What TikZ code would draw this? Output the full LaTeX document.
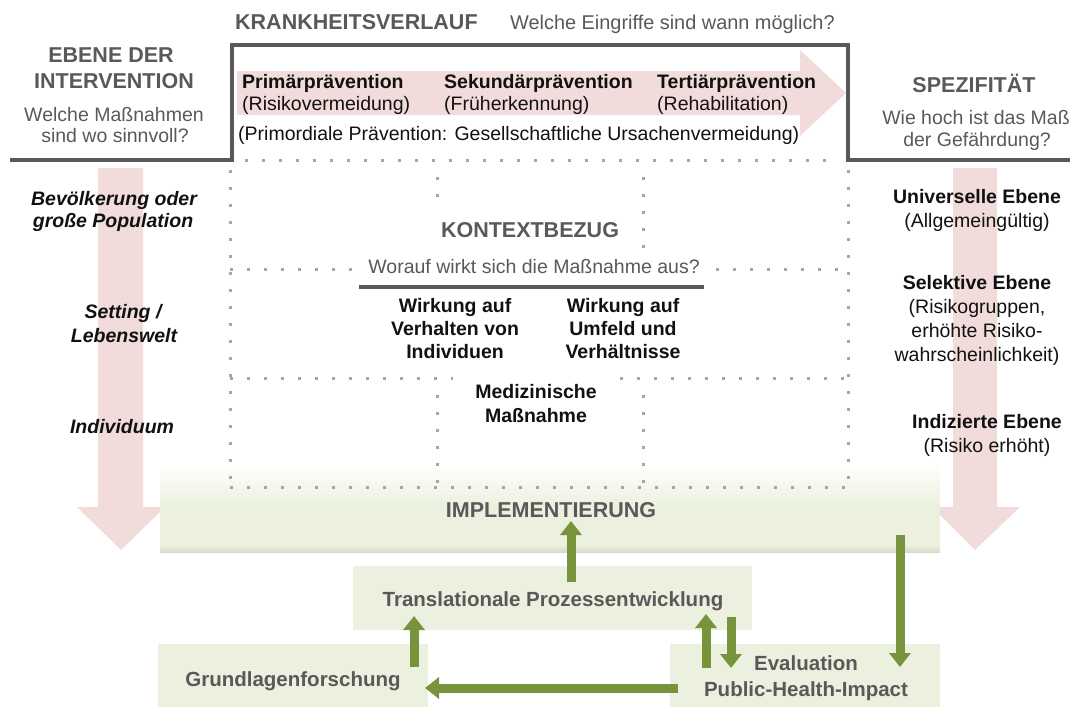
\documentclass[tikz,border=0pt]{standalone}
\usepackage{fontspec}
\setmainfont{Liberation Sans}
\usetikzlibrary{arrows.meta}
\definecolor{tgray}{HTML}{595959}
\definecolor{lgray}{HTML}{A6A6A6}
\definecolor{pinkc}{HTML}{F2DCDB}
\definecolor{gfill}{HTML}{EBF1DE}
\definecolor{gdark}{HTML}{D5DCC6}
\definecolor{garrow}{HTML}{77933C}
\definecolor{tblack}{HTML}{111111}
\begin{document}
\begin{tikzpicture}[x=1pt,y=-1pt,
  title/.style={font=\fontsize{21.5}{25}\selectfont\bfseries, text=tgray, inner sep=0pt, anchor=base},
  sub/.style={font=\fontsize{19.5}{23}\selectfont, text=tgray, inner sep=0pt, anchor=base},
  body/.style={font=\fontsize{19.5}{23}\selectfont, text=tblack, inner sep=0pt, anchor=base},
  bodyb/.style={font=\fontsize{19.5}{23}\selectfont\bfseries, text=tblack, inner sep=0pt, anchor=base},
  bodyi/.style={font=\fontsize{19.5}{23}\selectfont\bfseries\itshape, text=tblack, inner sep=0pt, anchor=base},
  boxtext/.style={font=\fontsize{20.5}{24}\selectfont\bfseries, text=tgray, inner sep=0pt, anchor=base},
  gbox/.style={fill=gfill, draw=none, inner sep=0pt},
  dotline/.style={draw=lgray, line width=3pt, dash pattern=on 3pt off 14pt},
  garr/.style={draw=garrow, line width=9pt, -{Triangle[width=21pt,length=14pt]}},
  pinkshape/.style={fill=pinkc, draw=none},
]
\useasboundingbox (0,0) rectangle (1085,707);

% pink arrows
\fill[pinkshape] (237,71) -- (800,71) -- (800,50) -- (846,93) -- (800,136) -- (800,115) -- (237,115) -- cycle;
\fill[pinkshape] (98,168) -- (143,168) -- (143,507) -- (165,507) -- (121,550) -- (77,507) -- (98,507) -- cycle;
\fill[pinkshape] (953,168) -- (997,168) -- (997,507) -- (1020,507) -- (975,550) -- (932,507) -- (953,507) -- cycle;

% implementation band
\shade[top color=white, bottom color=gfill] (160,463) rectangle (940,506);
\fill[gfill] (160,505) rectangle (940,546);
\shade[top color=gfill, bottom color=gdark] (160,545) rectangle (940,552);

% dotted grid
\draw[dotline] (245,160) -- (840,160);
\draw[dotline] (230,170) -- (230,487);
\draw[dotline] (848,170) -- (848,487);
\draw[dotline] (230,269) -- (355,269);
\draw[dotline] (716,269) -- (848,269);
\draw[dotline] (230,378) -- (453,378);
\draw[dotline] (620,378) -- (848,378);
\draw[dotline] (230,487) -- (848,487);
\draw[dotline] (437,177) -- (437,205);
\draw[dotline] (643,177) -- (643,248);
\draw[dotline] (437,395) -- (437,487);
\draw[dotline] (643,395) -- (643,487);

% stepped thick line
\draw[line width=4pt, tgray, line join=miter] (10,160) -- (232,160) -- (232,45) -- (848,45) -- (848,160) -- (1070,160);

% header texts
\node[title, anchor=base west] (kv) at (235,29) {KRANKHEITSVERLAUF};
\node[sub, anchor=base west, font=\fontsize{19.9}{23}\selectfont] (kvq) at (510,29) {Welche Eingriffe sind wann möglich?};

\node[title] (eb1) at (111,62) {EBENE DER};
\node[title] (eb2) at (114,88) {INTERVENTION};
\node[sub] (eb3) at (114,121) {Welche Maßnahmen};
\node[sub] (eb4) at (115,142) {sind wo sinnvoll?};

\node[title] (sp1) at (974,92) {SPEZIFITÄT};
\node[sub] (sp2) at (976,124) {Wie hoch ist das Maß};
\node[sub] (sp3) at (977,146) {der Gefährdung?};

% prevention types
\node[bodyb, anchor=base west] (pp1) at (242,88) {Primärprävention};
\node[body, anchor=base west] (pp2) at (242,110) {(Risikovermeidung)};
\node[bodyb, anchor=base west] (sp1b) at (444,88) {Sekundärprävention};
\node[body, anchor=base west] (sp2b) at (444,110) {(Früherkennung)};
\node[bodyb, anchor=base west] (tp1) at (657,88) {Tertiärprävention};
\node[body, anchor=base west] (tp2) at (657,110) {(Rehabilitation)};
\node[body, anchor=base west] (prim) at (238,140) {(Primordiale Prävention: Gesellschaftliche Ursachenvermeidung)};

% left levels
\node[bodyi] (l1) at (114,205) {Bevölkerung oder};
\node[bodyi] (l2) at (113,227) {große Population};
\node[bodyi] (l3) at (123,318) {Setting /};
\node[bodyi] (l4) at (124,342) {Lebenswelt};
\node[bodyi] (l5) at (122,433) {Individuum};

% right levels
\node[bodyb] (r1) at (977,203) {Universelle Ebene};
\node[body] (r2) at (977,227) {(Allgemeingültig)};
\node[bodyb] (r3) at (977,289) {Selektive Ebene};
\node[body] (r4) at (977,313) {(Risikogruppen,};
\node[body] (r5) at (977,337) {erhöhte Risiko-};
\node[body] (r6) at (977,361) {wahrscheinlichkeit)};
\node[bodyb] (r7) at (987,428) {Indizierte Ebene};
\node[body] (r8) at (987,452) {(Risiko erhöht)};

% context
\node[title] (kb) at (530,237) {KONTEXTBEZUG};
\node[sub] (kbq) at (534,273) {Worauf wirkt sich die Maßnahme aus?};
\draw[line width=4pt, tgray] (359,287) -- (704,287);
\node[bodyb] (w1) at (455,312) {Wirkung auf};
\node[bodyb] (w2) at (455,335) {Verhalten von};
\node[bodyb] (w3) at (455,358) {Individuen};
\node[bodyb] (u1) at (623,312) {Wirkung auf};
\node[bodyb] (u2) at (623,335) {Umfeld und};
\node[bodyb] (u3) at (623,358) {Verhältnisse};
\node[bodyb] (m1) at (536,398) {Medizinische};
\node[bodyb] (m2) at (536,422) {Maßnahme};

\node[title] (impl) at (551,517) {IMPLEMENTIERUNG};

% boxes
\node[gbox, minimum width=399pt, minimum height=64pt] (trans) at (552.5,598) {};
\node[gbox, minimum width=270pt, minimum height=63pt] (grund) at (293,675.5) {};
\node[gbox, minimum width=270pt, minimum height=63pt] (eval) at (805,675.5) {};
\node[boxtext] (transT) at (553,606) {Translationale Prozessentwicklung};
\node[boxtext] (grundT) at (293,686) {Grundlagenforschung};
\node[boxtext] (evalT1) at (806,670) {Evaluation};
\node[boxtext] (evalT2) at (806,696) {Public-Health-Impact};

% green arrows
\coordinate (a1s) at (571,582); \coordinate (a1e) at (571,521);
\coordinate (a2s) at (414,667); \coordinate (a2e) at (414,616);
\coordinate (a3s) at (706,668); \coordinate (a3e) at (706,614);
\coordinate (a4s) at (731,617); \coordinate (a4e) at (731,668);
\coordinate (a5s) at (900,535); \coordinate (a5e) at (900,667);
\coordinate (a6s) at (678,688); \coordinate (a6e) at (425,688);
\draw[garr] (a1s) -- (a1e);
\draw[garr] (a2s) -- (a2e);
\draw[garr] (a3s) -- (a3e);
\draw[garr] (a4s) -- (a4e);
\draw[garr] (a5s) -- (a5e);
\draw[garr] (a6s) -- (a6e);
\end{tikzpicture}
\end{document}
